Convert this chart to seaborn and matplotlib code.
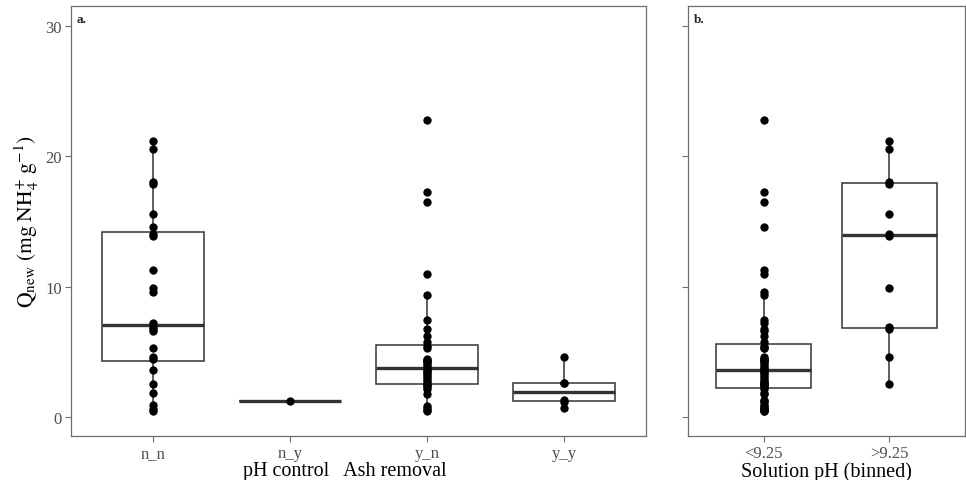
import matplotlib
matplotlib.use("Agg")
import matplotlib.pyplot as plt
import numpy as np
import pandas as pd
import seaborn as sns

# Ammonium uptake Q_new per run, grouped by treatment (pH control _ ash removal)
# and split by the solution pH of each run.
treatments = ["n_n", "n_y", "y_n", "y_y"]
ph_bins = ["<9.25", ">9.25"]

q_n_n_low_ph = [14.56, 11.28, 9.57, 7.21, 6.62, 5.35, 4.50, 3.63, 1.84, 0.92, 0.67, 0.46]
q_n_n_high_ph = [21.16, 20.57, 18.06, 17.88, 15.58, 14.04, 13.92, 9.93, 6.93, 6.75, 4.63, 2.58]
q_n_y = [1.25]
q_y_n = [22.82, 17.29, 16.47, 11.0, 9.39, 7.44, 6.81, 6.24, 5.8, 5.45, 5.35,
         4.45, 4.38, 4.3, 4.25, 4.1, 3.95, 3.8, 3.72, 3.65, 3.5, 3.4, 3.25, 3.1,
         2.95, 2.8, 2.6, 2.5, 2.45, 2.35, 2.2, 1.77, 0.87, 0.7, 0.55, 0.48]
q_y_y = [4.66, 2.65, 2.6, 1.35, 1.2, 0.69]

groups = [
    ("n_n", "<9.25", q_n_n_low_ph),
    ("n_n", ">9.25", q_n_n_high_ph),
    ("n_y", "<9.25", q_n_y),
    ("y_n", "<9.25", q_y_n),
    ("y_y", "<9.25", q_y_y),
]
df = pd.concat(
    [pd.DataFrame({"treatment": t, "ph_bin": b, "q": v}) for t, b, v in groups],
    ignore_index=True,
)

sns.set_style("white")
plt.rcParams["font.family"] = ["Liberation Serif", "DejaVu Serif"]
plt.rcParams["mathtext.fontset"] = "stix"

W, H = 966, 481
fig = plt.figure(figsize=(W / 100, H / 100), dpi=100)
top, bottom = 7, 437
ax_a = fig.add_axes([71 / W, 1 - bottom / H, (646 - 71) / W, (bottom - top) / H])
ax_b = fig.add_axes([688 / W, 1 - bottom / H, (965 - 688) / W, (bottom - top) / H])

box_kw = dict(color="white", linecolor="#333333", linewidth=1.1, width=0.75,
              showcaps=False, showfliers=False, whis=1.5,
              medianprops=dict(linewidth=2.4, color="#333333"))
pt_kw = dict(jitter=False, color="black", size=6.0, linewidth=0, zorder=4)

sns.boxplot(data=df, x="treatment", y="q", order=treatments, ax=ax_a, **box_kw)
sns.stripplot(data=df, x="treatment", y="q", order=treatments, ax=ax_a, **pt_kw)

sns.boxplot(data=df, x="ph_bin", y="q", order=ph_bins, ax=ax_b, **box_kw)
sns.stripplot(data=df, x="ph_bin", y="q", order=ph_bins, ax=ax_b, **pt_kw)

ylim = (-1.43, 31.53)
for ax, n in ((ax_a, len(treatments)), (ax_b, len(ph_bins))):
    ax.set_xlim(-0.6, n - 0.4)
    ax.set_ylim(*ylim)
    ax.set_yticks([0, 10, 20, 30])
    for s in ax.spines.values():
        s.set_visible(True)
        s.set_color("#6e6e6e")
        s.set_linewidth(0.9)
    ax.tick_params(axis="both", which="both", direction="out", length=4.5,
                   width=0.8, color="#6e6e6e", labelcolor="#4d4d4d",
                   labelsize=12, pad=2, bottom=True, left=True)
    ax.grid(False)

ax_b.set_yticklabels([])
ax_b.set_ylabel("")

ax_a.set_xlabel("pH control   Ash removal", fontsize=14.5, color="black")
ax_b.set_xlabel("Solution pH (binned)", fontsize=14.5, color="black")
ax_a.xaxis.set_label_coords((345 - 71) / 575, -0.059)
ax_b.xaxis.set_label_coords(0.5, -0.059)
ax_a.set_ylabel(r"$\mathrm{Q_{new}\ (mg\ NH_4^{+}\ g^{-1})}$", fontsize=15.5,
                color="black")
ax_a.yaxis.set_label_coords(-0.077, 0.5)
ax_a.yaxis.label.set_va("center")

ax_a.text(0.009, 0.983, "a.", transform=ax_a.transAxes, ha="left", va="top",
          fontsize=9.5, fontweight="bold")
ax_b.text(0.02, 0.983, "b.", transform=ax_b.transAxes, ha="left", va="top",
          fontsize=9.5, fontweight="bold")

fig.savefig("out.png", dpi=100)
